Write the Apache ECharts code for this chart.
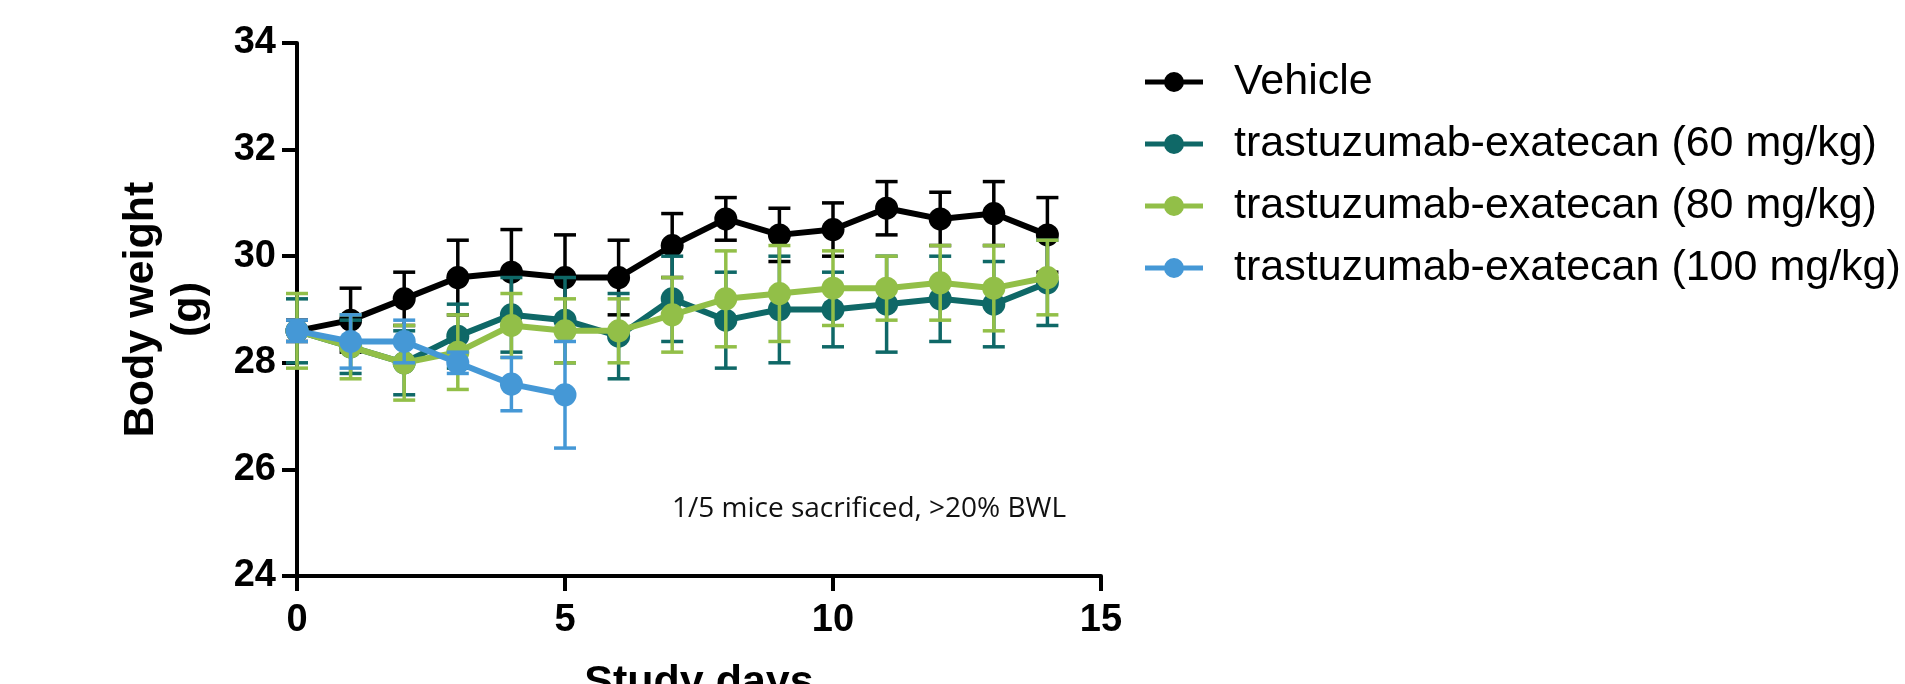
<!DOCTYPE html>
<html><head><meta charset="utf-8">
<script src="https://cdn.jsdelivr.net/npm/echarts@6/dist/echarts.min.js"></script>
<style>html,body{margin:0;padding:0;background:#fff}#c{width:1905px;height:684px}</style>
</head><body><div id="c"></div>
<script>
// ---- data ----
const days = [0,1,2,3,4,5,6,7,8,9,10,11,12,13,14];
const seriesNames = ['Vehicle','trastuzumab-exatecan (60 mg/kg)','trastuzumab-exatecan (80 mg/kg)','trastuzumab-exatecan (100 mg/kg)'];
const vehicle      = [28.6,28.8,29.2,29.6,29.7,29.6,29.6,30.2,30.7,30.4,30.5,30.9,30.7,30.8,30.4];
const vehicleErr   = [0.2,0.6,0.5,0.7,0.8,0.8,0.7,0.6,0.4,0.5,0.5,0.5,0.5,0.6,0.7];
const dose60       = [28.6,28.3,28.0,28.5,28.9,28.8,28.5,29.2,28.8,29.0,29.0,29.1,29.2,29.1,29.5];
const dose60Err    = [0.6,0.5,0.6,0.6,0.7,0.8,0.8,0.8,0.9,1.0,0.7,0.9,0.8,0.8,0.8];
const dose80       = [28.6,28.3,28.0,28.2,28.7,28.6,28.6,28.9,29.2,29.3,29.4,29.4,29.5,29.4,29.6];
const dose80Err    = [0.7,0.6,0.7,0.7,0.6,0.6,0.6,0.7,0.9,0.9,0.7,0.6,0.7,0.8,0.7];
const dose100      = [28.6,28.4,28.4,28.0,27.6,27.4];
const dose100Err   = [0.2,0.5,0.4,0.2,0.5,1.0];
const yTicks = {min:24, max:34, interval:2};
const xTicks = {min:0, max:15, interval:5};
const annotation = '1/5 mice sacrificed, >20% BWL';

// ---- chart ----
const colors = ['#000000','#0f6867','#92bf48','#4598d6'];
const means = [vehicle, dose60, dose80, dose100];
const errs = [vehicleErr, dose60Err, dose80Err, dose100Err];
const FONT = '"Liberation Sans", Arial, sans-serif';
const legendIcon = 'path://M0,7.5L58,7.5L58,12.5L0,12.5Z M29,0A10,10 0 1,1 29,20A10,10 0 1,1 29,0Z';

function makeErr(color){
  return function(params, api){
    const x = api.value(0), y = api.value(1), e = api.value(2);
    const t = api.coord([x, y + e]), b = api.coord([x, y - e]);
    const hw = 11;
    const style = {stroke: color, lineWidth: 3.5, fill: null};
    return {type:'group', children:[
      {type:'line', shape:{x1:t[0],y1:t[1],x2:b[0],y2:b[1]}, style: style},
      {type:'line', shape:{x1:t[0]-hw,y1:t[1],x2:t[0]+hw,y2:t[1]}, style: style},
      {type:'line', shape:{x1:b[0]-hw,y1:b[1],x2:b[0]+hw,y2:b[1]}, style: style}
    ]};
  };
}

const series = [];
means.forEach((m, i) => {
  series.push({
    name: seriesNames[i] + ' SD',
    type: 'custom',
    renderItem: makeErr(colors[i]),
    data: m.map((v, k) => [days[k], v, errs[i][k]]),
    z: 3 + 2*i,
    clip: false,
    silent: true
  });
  series.push({
    name: seriesNames[i],
    type: 'line',
    data: m.map((v, k) => [days[k], v]),
    symbol: 'circle',
    symbolSize: 23,
    itemStyle: {color: colors[i]},
    lineStyle: {color: colors[i], width: 6},
    z: 4 + 2*i,
    clip: false,
    animation: false
  });
});

const chart = echarts.init(document.getElementById('c'), null, {renderer:'canvas'});
chart.setOption({
  backgroundColor: '#ffffff',
  animation: false,
  grid: {left: 297, right: 804, top: 43, bottom: 108, containLabel: false, outerBoundsMode: 'none'},
  xAxis: {
    type: 'value', min: xTicks.min, max: xTicks.max, interval: xTicks.interval,
    name: 'Study days', nameLocation: 'middle', nameGap: 86,
    nameTextStyle: {fontFamily: FONT, fontWeight: 'bold', fontSize: 43, color: '#000'},
    axisLine: {show: true, lineStyle: {color: '#000', width: 4}},
    axisTick: {show: true, length: 15, lineStyle: {color: '#000', width: 4}},
    axisLabel: {fontFamily: FONT, fontWeight: 'bold', fontSize: 38, color: '#000', margin: 26},
    splitLine: {show: false}
  },
  yAxis: {
    type: 'value', min: yTicks.min, max: yTicks.max, interval: yTicks.interval,
    name: 'Body weight\n(g)', nameLocation: 'middle', nameGap: 84,
    nameTextStyle: {fontFamily: FONT, fontWeight: 'bold', fontSize: 43, color: '#000', lineHeight: 48},
    axisLine: {show: true, lineStyle: {color: '#000', width: 4}},
    axisTick: {show: true, length: 15, lineStyle: {color: '#000', width: 4}},
    axisLabel: {fontFamily: FONT, fontWeight: 'bold', fontSize: 38, color: '#000', margin: 21},
    splitLine: {show: false}
  },
  legend: {
    data: seriesNames.map(n => ({name: n, icon: legendIcon})),
    orient: 'vertical',
    left: 1140, top: 52,
    itemWidth: 58, itemHeight: 20,
    itemGap: 12,
    textStyle: {fontFamily: FONT, fontSize: 43, color: '#000', lineHeight: 50, padding: [0,0,0,26]},
    selectedMode: false
  },
  graphic: [{
    type: 'text', x: 672, y: 509, silent: true,
    style: {text: annotation, font: '28px "Open Sans", sans-serif', fill: '#111', verticalAlign: 'middle', align: 'left'}
  }],
  series: series
});
</script>
</body></html>
